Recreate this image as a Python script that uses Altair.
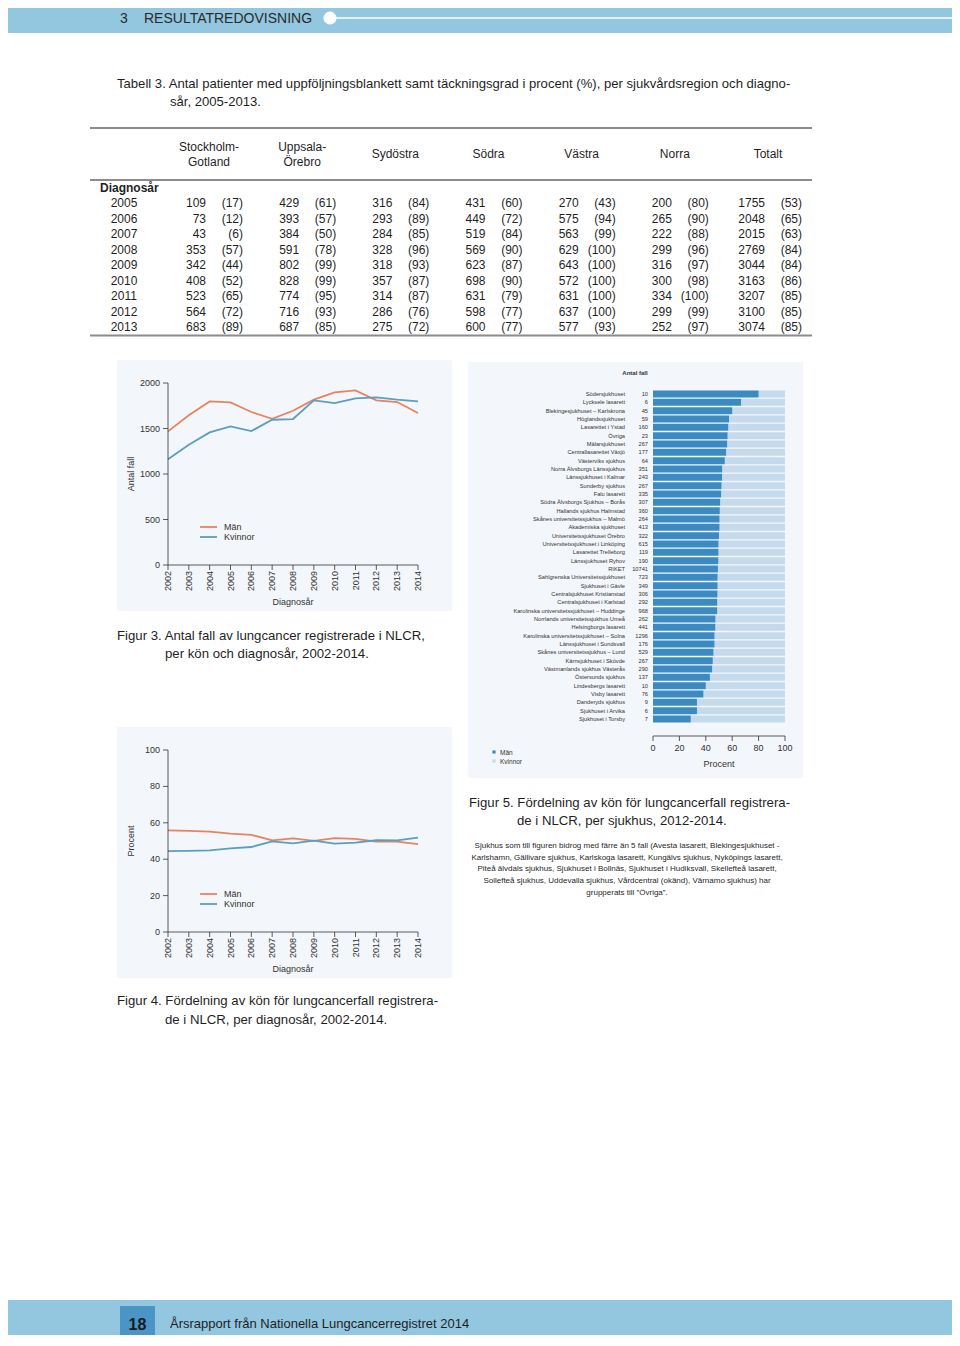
import altair as alt
import pandas as pd

# ---------------- data ----------------
years_tbl = [2005, 2006, 2007, 2008, 2009, 2010, 2011, 2012, 2013]
regions = ["Stockholm-Gotland", "Uppsala-Örebro", "Sydöstra", "Södra", "Västra", "Norra", "Totalt"]
region_headers = ["Stockholm-\nGotland", "Uppsala-\nÖrebro", "Sydöstra", "Södra", "Västra", "Norra", "Totalt"]

sthlm_n = [109, 73, 43, 353, 342, 408, 523, 564, 683]
sthlm_p = [17, 12, 6, 57, 44, 52, 65, 72, 89]
upps_n = [429, 393, 384, 591, 802, 828, 774, 716, 687]
upps_p = [61, 57, 50, 78, 99, 99, 95, 93, 85]
syd_n = [316, 293, 284, 328, 318, 357, 314, 286, 275]
syd_p = [84, 89, 85, 96, 93, 87, 87, 76, 72]
sodra_n = [431, 449, 519, 569, 623, 698, 631, 598, 600]
sodra_p = [60, 72, 84, 90, 87, 90, 79, 77, 77]
vast_n = [270, 575, 563, 629, 643, 572, 631, 637, 577]
vast_p = [43, 94, 99, 100, 100, 100, 100, 100, 93]
norra_n = [200, 265, 222, 299, 316, 300, 334, 299, 252]
norra_p = [80, 90, 88, 96, 97, 98, 100, 99, 97]
tot_n = [1755, 2048, 2015, 2769, 3044, 3163, 3207, 3100, 3074]
tot_p = [53, 65, 63, 84, 84, 86, 85, 85, 85]

years_fig = [2002, 2003, 2004, 2005, 2006, 2007, 2008, 2009, 2010, 2011, 2012, 2013, 2014]
fig3_man = [1468, 1645, 1798, 1787, 1681, 1607, 1695, 1817, 1897, 1919, 1809, 1791, 1670]
fig3_kv = [1163, 1321, 1457, 1523, 1472, 1596, 1604, 1809, 1780, 1831, 1842, 1817, 1798]
fig3_ticks = [0, 500, 1000, 1500, 2000]

fig4_man = [55.8, 55.6, 55.2, 54.1, 53.4, 50.3, 51.4, 50.1, 51.6, 51.2, 49.7, 49.7, 48.3]
fig4_kv = [44.4, 44.6, 44.9, 46.0, 46.7, 49.8, 48.7, 50.2, 48.6, 49.1, 50.4, 50.3, 51.9]
fig4_ticks = [0, 20, 40, 60, 80, 100]

hospitals = [
    "Södersjukhuset", "Lycksele lasarett", "Blekingesjukhuset – Karlskrona", "Höglandssjukhuset",
    "Lasarettet i Ystad", "Övriga", "Mälarsjukhuset", "Centrallasarettet Växjö", "Västerviks sjukhus",
    "Norra Älvsborgs Länssjukhus", "Länssjukhuset i Kalmar", "Sunderby sjukhus", "Falu lasarett",
    "Södra Älvsborgs Sjukhus – Borås", "Hallands sjukhus Halmstad", "Skånes universitetssjukhus – Malmö",
    "Akademiska sjukhuset", "Universitetssjukhuset Örebro", "Universitetssjukhuset i Linköping",
    "Lasarettet Trelleborg", "Länssjukhuset Ryhov", "RIKET", "Sahlgrenska Universitetssjukhuset",
    "Sjukhuset i Gävle", "Centralsjukhuset Kristianstad", "Centralsjukhuset i Karlstad",
    "Karolinska universitetssjukhuset – Huddinge", "Norrlands universitetssjukhus Umeå",
    "Helsingborgs lasarett", "Karolinska universitetssjukhuset – Solna", "Länssjukhuset i Sundsvall",
    "Skånes universitetssjukhus – Lund", "Kärnsjukhuset i Skövde", "Västmanlands sjukhus Västerås",
    "Östersunds sjukhus", "Lindesbergs lasarett", "Visby lasarett", "Danderyds sjukhus",
    "Sjukhuset i Arvika", "Sjukhuset i Torsby",
]
hosp_n = [10, 6, 45, 59, 160, 23, 267, 177, 64, 351, 243, 267, 335, 307, 360, 264, 413, 322, 615,
          119, 190, 10741, 723, 349, 306, 292, 968, 262, 441, 1296, 176, 529, 267, 290, 137, 10, 76, 9, 6, 7]
hosp_man = [80.0, 66.7, 60.0, 57.6, 57.0, 56.5, 56.2, 55.4, 54.4, 52.4, 52.3, 51.9, 51.6, 50.9, 50.6,
            50.4, 50.4, 50.0, 49.6, 49.6, 49.5, 49.2, 48.9, 48.9, 48.8, 48.6, 48.6, 47.3, 47.2, 46.6,
            46.6, 45.8, 45.3, 44.8, 43.1, 40.0, 38.2, 33.3, 33.3, 28.6]
hosp_total = [100] * len(hospitals)
fig5_ticks = [0, 20, 40, 60, 80, 100]

# ---------------- style ----------------
F = "Liberation Sans"
TXT = "#1f1f1f"
AX = "#333333"
ORANGE = "#e8835f"
BLUE = "#5b9ec3"
PANEL = "#f3f6fa"
BAND = "#93c6df"
DARKSQ = "#4a94c6"
BAR_D = "#3b8bc2"
BAR_L = "#c6daee"
CAP = 13.2


def P(v):
    return v - 8


one = pd.DataFrame({"k": [0]})


def box(x0, x1, y0, y1, color):
    return alt.Chart(one).mark_rect(color=color).encode(
        x=alt.value(P(x0)), x2=alt.value(P(x1)), y=alt.value(P(y0)), y2=alt.value(P(y1)))


def hline(x0, x1, y, color, w):
    return alt.Chart(one).mark_rule(color=color, strokeWidth=w).encode(
        x=alt.value(P(x0)), x2=alt.value(P(x1)), y=alt.value(P(y)))


def label(text, x, y, size, align="left", weight="normal", angle=0, color=TXT):
    return alt.Chart(one).mark_text(
        text=text, align=align, baseline="middle", fontSize=size, fontWeight=weight,
        angle=angle, color=color, font=F).encode(x=alt.value(P(x)), y=alt.value(P(y)))


layers = []

# header band
layers.append(box(0, 960, 0, 33, BAND))
layers.append(hline(336, 960, 18, "white", 1.5))
layers.append(alt.Chart(one).mark_circle(color="white", opacity=1, size=170).encode(
    x=alt.value(P(330)), y=alt.value(P(18))))
layers.append(label("3", 120, 18.5, 14, color="#2b2b2b"))
layers.append(label("RESULTATREDOVISNING", 144, 18.5, 14, color="#2b2b2b"))

# footer band
layers.append(box(0, 960, 1300, 1346, BAND))
layers.append(box(120, 155, 1306, 1346, DARKSQ))
layers.append(label("18", 137.5, 1325, 16, align="center", weight="bold", color="#1a1a1a"))
layers.append(label("Årsrapport från Nationella Lungcancerregistret 2014", 170, 1324, 13))

# table caption
layers.append(label("Tabell 3. Antal patienter med uppföljningsblankett samt täckningsgrad i procent (%), per sjukvårdsregion och diagno-", 117, 84, 13.1))
layers.append(label("sår, 2005-2013.", 170, 102, 13.1))

# ---------------- table ----------------
rows = []
for reg, ns, ps in zip(regions, [sthlm_n, upps_n, syd_n, sodra_n, vast_n, norra_n, tot_n],
                       [sthlm_p, upps_p, syd_p, sodra_p, vast_p, norra_p, tot_p]):
    for yr, n, p in zip(years_tbl, ns, ps):
        rows.append({"region": reg, "year": yr, "n": n, "p": p})
tbl = pd.DataFrame(rows)
hdr = pd.DataFrame({"region": regions, "label": region_headers})
hdr2 = hdr[hdr["label"].str.contains("\n")]
hdr1 = hdr[~hdr["label"].str.contains("\n")]
yrs = pd.DataFrame({"year": years_tbl})

xt = alt.X("region:N", scale=alt.Scale(type="point", domain=regions, range=[P(206), P(765)], padding=0), axis=None)
yt = alt.Y("year:O", scale=alt.Scale(type="point", domain=years_tbl, range=[P(203), P(327)], padding=0), axis=None)

tnum = alt.Chart(tbl).mark_text(align="right", baseline="middle", fontSize=12, font=F, color=TXT).encode(
    x=xt, y=yt, text=alt.Text("n:Q", format="d"))
tpct = alt.Chart(tbl).transform_calculate(pl="'(' + datum.p + ')'").mark_text(
    align="right", baseline="middle", fontSize=12, font=F, color=TXT, dx=37).encode(
    x=xt, y=yt, text="pl:N")
thdr2 = alt.Chart(hdr2).mark_text(align="center", baseline="middle", fontSize=12, font=F, color=TXT,
                                  lineBreak="\n", lineHeight=15, dx=3).encode(
    x=xt, y=alt.value(P(147)), text="label:N")
thdr1 = alt.Chart(hdr1).mark_text(align="center", baseline="middle", fontSize=12, font=F, color=TXT,
                                  dx=3).encode(
    x=xt, y=alt.value(P(154)), text="label:N")
tyr = alt.Chart(yrs).mark_text(align="center", baseline="middle", fontSize=12, font=F, color=TXT).encode(
    x=alt.value(P(124)), y=yt, text="year:N")
layers.append(alt.layer(tnum, tpct, thdr2, thdr1, tyr))
layers.append(hline(90, 812, 128, "#8c8c8c", 2))
layers.append(hline(90, 812, 180, "#8c8c8c", 2))
layers.append(hline(90, 812, 335.5, "#8c8c8c", 2))
layers.append(label("Diagnosår", 100, 188, 12, weight="bold"))


# ---------------- line panels ----------------
def line_panel(man, kv, ymax, yticks, y0px, y1px, ytitle):
    xsc = alt.Scale(domain=[2002, 2014], range=[P(168), P(418)], nice=False, zero=False)
    ysc = alt.Scale(domain=[0, ymax], range=[P(y0px), P(y1px)], nice=False, zero=False)
    df = pd.DataFrame({"year": years_fig * 2,
                       "sex": ["Män"] * len(years_fig) + ["Kvinnor"] * len(years_fig),
                       "v": man + kv})
    tdf = pd.DataFrame({"t": yticks})
    xdf = pd.DataFrame({"year": years_fig})
    ext = pd.DataFrame({"lo": [min(yticks)], "hi": [max(yticks)],
                        "x0": [min(years_fig)], "x1": [max(years_fig)]})
    lines = alt.Chart(df).mark_line(strokeWidth=1.8).encode(
        x=alt.X("year:Q", scale=xsc, axis=None),
        y=alt.Y("v:Q", scale=ysc, axis=None),
        color=alt.Color("sex:N", scale=alt.Scale(domain=["Män", "Kvinnor"], range=[ORANGE, BLUE]), legend=None))
    yaxis = alt.Chart(ext).mark_rule(color=AX, strokeWidth=0.8).encode(
        x=alt.value(P(168)), y=alt.Y("lo:Q", scale=ysc, axis=None), y2="hi:Q")
    xaxis = alt.Chart(ext).mark_rule(color=AX, strokeWidth=0.8).encode(
        y=alt.value(P(y0px)), x=alt.X("x0:Q", scale=xsc, axis=None), x2="x1:Q")
    ytk = alt.Chart(tdf).mark_rule(color=AX, strokeWidth=0.8).encode(
        y=alt.Y("t:Q", scale=ysc, axis=None), x=alt.value(P(163)), x2=alt.value(P(168)))
    ylb = alt.Chart(tdf).mark_text(align="right", baseline="middle", fontSize=9, font=F, color=AX).encode(
        y=alt.Y("t:Q", scale=ysc, axis=None), x=alt.value(P(160)), text="t:Q")
    xtk = alt.Chart(xdf).mark_rule(color=AX, strokeWidth=0.8).encode(
        x=alt.X("year:Q", scale=xsc, axis=None), y=alt.value(P(y0px)), y2=alt.value(P(y0px + 5)))
    xlb = alt.Chart(xdf).mark_text(align="right", baseline="middle", fontSize=9, font=F, color=AX, angle=270).encode(
        x=alt.X("year:Q", scale=xsc, axis=None), y=alt.value(P(y0px + 6)), text="year:N")
    return [alt.layer(lines, yaxis, xaxis, ytk, ylb, xtk, xlb),
            label("Diagnosår", 293, y0px + 37, 9, align="center", color=AX),
            label(ytitle, 131, (y0px + y1px) / 2, 9, align="center", angle=270, color=AX),
            hline(200, 217, y0px - 38, ORANGE, 1.8),
            hline(200, 217, y0px - 28, BLUE, 1.8),
            label("Män", 224, y0px - 38, 9, color=AX),
            label("Kvinnor", 224, y0px - 28, 9, color=AX)]


# fig 3
layers.append(box(117, 452, 360, 611, PANEL))
layers += line_panel(fig3_man, fig3_kv, 2000, fig3_ticks, 565, 383, "Antal fall")
layers.append(label("Figur 3. Antal fall av lungcancer registrerade i NLCR,", 117, 636, CAP))
layers.append(label("per kön och diagnosår, 2002-2014.", 165, 654, CAP))

# fig 4
layers.append(box(117, 452, 727, 978, PANEL))
layers += line_panel(fig4_man, fig4_kv, 100, fig4_ticks, 932, 750, "Procent")
layers.append(label("Figur 4. Fördelning av kön för lungcancerfall registrera-", 117, 1001, CAP))
layers.append(label("de i NLCR, per diagnosår, 2002-2014.", 165, 1020, CAP))

# ---------------- fig 5 ----------------
layers.append(box(468, 803, 362, 778, PANEL))
hdf = pd.DataFrame({"hospital": hospitals, "n": hosp_n, "man": hosp_man, "total": hosp_total})
ysc5 = alt.Scale(type="band", domain=hospitals, range=[P(389.83), P(723.17)], paddingInner=0.16, paddingOuter=0.08)
xsc5 = alt.Scale(domain=[0, 100], range=[P(653), P(785)], nice=False, zero=False)
y5 = alt.Y("hospital:N", scale=ysc5, axis=None)
bg = alt.Chart(hdf).mark_bar(color=BAR_L).encode(
    y=y5, x=alt.X("man:Q", scale=xsc5, axis=None), x2="total:Q")
fg = alt.Chart(hdf).transform_calculate(zero="0").mark_bar(color=BAR_D).encode(
    y=y5, x=alt.X("zero:Q", scale=xsc5, axis=None), x2="man:Q")
names = alt.Chart(hdf).mark_text(align="right", baseline="middle", fontSize=5.7, font=F, color=AX).encode(
    y=y5, x=alt.value(P(625)), text="hospital:N")
cnts = alt.Chart(hdf).mark_text(align="right", baseline="middle", fontSize=5.7, font=F, color=AX).encode(
    y=y5, x=alt.value(P(648)), text=alt.Text("n:Q", format="d"))
t5 = pd.DataFrame({"t": fig5_ticks})
e5 = pd.DataFrame({"lo": [min(fig5_ticks)], "hi": [max(fig5_ticks)]})
ax5 = alt.Chart(e5).mark_rule(color=AX, strokeWidth=0.8).encode(
    y=alt.value(P(736)), x=alt.X("lo:Q", scale=xsc5, axis=None), x2="hi:Q")
tk5 = alt.Chart(t5).mark_rule(color=AX, strokeWidth=0.8).encode(
    x=alt.X("t:Q", scale=xsc5, axis=None), y=alt.value(P(736)), y2=alt.value(P(741)))
lb5 = alt.Chart(t5).mark_text(align="center", baseline="middle", fontSize=9, font=F, color=AX).encode(
    x=alt.X("t:Q", scale=xsc5, axis=None), y=alt.value(P(748)), text="t:Q")
layers.append(alt.layer(bg, fg, names, cnts, ax5, tk5, lb5))
layers.append(label("Antal fall", 635, 373, 6, align="center", weight="bold", color=AX))
layers.append(label("Procent", 719, 764, 9, align="center", color=AX))
layers.append(alt.Chart(one).mark_square(color=BAR_D, size=10, opacity=1).encode(x=alt.value(P(494)), y=alt.value(P(752))))
layers.append(alt.Chart(one).mark_square(color=BAR_L, size=10, opacity=1).encode(x=alt.value(P(494)), y=alt.value(P(761))))
layers.append(label("Män", 500, 752.5, 6.5, color=AX))
layers.append(label("Kvinnor", 500, 761.5, 6.5, color=AX))

layers.append(label("Figur 5. Fördelning av kön för lungcancerfall registrera-", 469, 803, CAP))
layers.append(label("de i NLCR, per sjukhus, 2012-2014.", 517, 821, CAP))
foot = [
    "Sjukhus som till figuren bidrog med färre än 5 fall (Avesta lasarett, Blekingesjukhuset -",
    "Karlshamn, Gällivare sjukhus, Karlskoga lasarett, Kungälvs sjukhus, Nyköpings lasarett,",
    "Piteå älvdals sjukhus, Sjukhuset i Bollnäs, Sjukhuset i Hudiksvall, Skellefteå lasarett,",
    "Sollefteå sjukhus, Uddevalla sjukhus, Vårdcentral (okänd), Värnamo sjukhus) har",
    "grupperats till \u201dÖvriga\u201d.",
]
for i, line in enumerate(foot):
    layers.append(label(line, 627, 846 + i * 11.7, 8.0, align="center"))

chart = alt.layer(*layers).resolve_scale(
    x="independent", y="independent", color="independent"
).properties(
    width=944, height=1327, autosize="none", padding=0, background="white"
).configure_view(strokeWidth=0)

chart.save("out.html", embed_options={"renderer": "svg", "actions": False})
